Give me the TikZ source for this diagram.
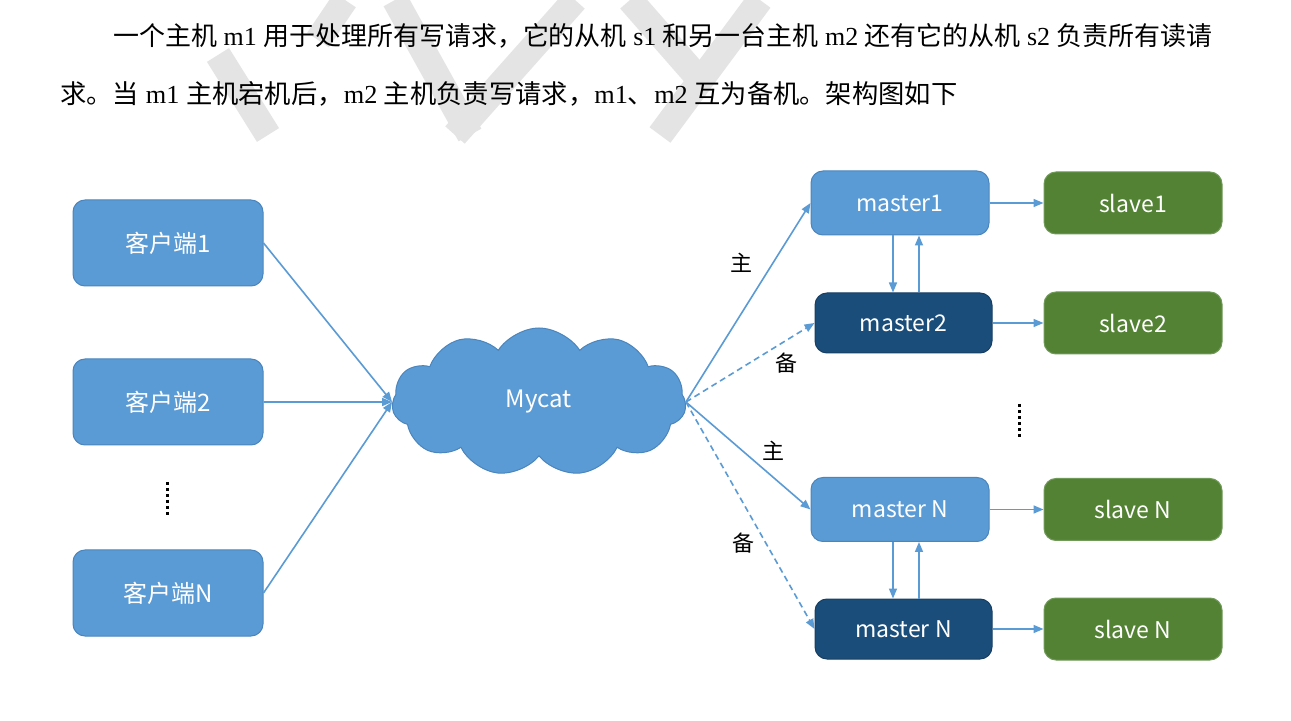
\documentclass[tikz,border=0pt]{standalone}
\usepackage{graphicx}
\usepackage{fontspec}
\setmainfont{Liberation Serif}
\newfontfamily\cjk{Noto Sans CJK SC}
\usetikzlibrary{shapes.symbols,arrows.meta}

\definecolor{boxblue}{HTML}{5B9BD5}
\definecolor{boxedge}{HTML}{4A85BD}
\definecolor{deepblue}{HTML}{1B4D7A}
\definecolor{deepedge}{HTML}{173F63}
\definecolor{slavegreen}{HTML}{548235}
\definecolor{slaveedge}{HTML}{6F9A58}
\definecolor{wmgray}{HTML}{E4E4E4}

\tikzset{
  box/.style={rectangle, rounded corners=6pt, line width=0.5pt, text=white,
    inner sep=0pt, font=\cjk\fontsize{11.5}{13}\selectfont},
  client/.style={box, fill=boxblue, draw=boxedge, minimum width=95pt,
    minimum height=43pt, font=\cjk\fontsize{12}{14}\selectfont},
  master/.style={box, fill=boxblue, draw=boxedge, minimum width=89pt, minimum height=32pt},
  backup/.style={box, fill=deepblue, draw=deepedge, minimum width=88.5pt, minimum height=30pt},
  slavebox/.style={box, fill=slavegreen, draw=slaveedge, minimum width=89pt, minimum height=31pt},
  link/.style={draw=boxblue, line width=0.8pt, -{Triangle[length=5pt,width=4pt]}},
  spare/.style={link, dash pattern=on 3pt off 2pt},
  tag/.style={font=\cjk\fontsize{11}{12}\selectfont, text=black, inner sep=0pt},
  para/.style={anchor=base west, inner sep=0pt, font=\fontsize{13}{15}\selectfont},
}

\begin{document}
\begin{tikzpicture}[x=0.5pt, y=-0.5pt]
  \useasboundingbox[fill=white] (0,0) rectangle (1291,721);

  \begin{scope}[draw=wmgray, line width=13pt]
    \draw (218,55) -- (268,135);
    \draw (345,0) -- (318,40);
    \draw (395,0) -- (470,135);
    \draw (575,0) -- (455,135);
    \draw (630,0) -- (700,80);
    \draw (760,0) -- (660,135);
  \end{scope}

  \node[para] (line1) at (113,46) {\resizebox{549.5pt}{\height}{{\cjk 一个主机} m1 {\cjk 用于处理所有写请求，它的从机} s1 {\cjk 和另一台主机} m2 {\cjk 还有它的从机} s2 {\cjk 负责所有读请}}};
  \node[para] (line2) at (60,104) {\resizebox{448.5pt}{\height}{{\cjk 求。当} m1 {\cjk 主机宕机后，}m2 {\cjk 主机负责写请求，}m1{\cjk 、}m2 {\cjk 互为备机。架构图如下}}};

  \node[client] (c1) at (168,243) {客户端1};
  \node[client] (c2) at (168,402) {客户端2};
  \node[client] (cn) at (168,593) {客户端N};

  \node[cloud, cloud puffs=11, cloud puff arc=115, aspect=2, fill=boxblue, draw=boxedge,
    line width=0.5pt, minimum width=147pt, minimum height=74pt, text=white,
    font=\cjk\fontsize{12}{14}\selectfont] (mycat) at (539,402) {Mycat};

  \node[master] (m1) at (900,203) {master1};
  \node[backup] (m2) at (903.5,323) {master2};
  \node[master] (mn) at (900,509.5) {master N};
  \node[backup] (bn) at (903.5,629) {master N};

  \node[slavebox] (s1) at (1133,203) {slave1};
  \node[slavebox] (s2) at (1133,323) {slave2};
  \node[slavebox] (sn) at (1133,509.5) {slave N};
  \node[slavebox] (tn) at (1133,629) {slave N};

  \draw[link] (c1.east) -- (mycat.west);
  \draw[link] (c2.east) -- (mycat.west);
  \draw[link] (cn.east) -- (mycat.west);

  \draw[link] (mycat.east) -- (m1.west) node[tag, pos=0.7, left=10pt] {主};
  \draw[spare] (mycat.east) -- (m2.west) node[tag, pos=0.78, below=6pt] {备};
  \draw[link] (mycat.east) -- (mn.west) node[tag, pos=0.7, above=8pt] {主};
  \draw[spare] (mycat.east) -- (bn.west) node[tag, pos=0.62, left=5pt] {备};

  \draw[link] ([xshift=-3.5pt]m1.south) -- ([xshift=-3.5pt]m1.south |- m2.north);
  \draw[link] ([xshift=9.5pt]m1.south |- m2.north) -- ([xshift=9.5pt]m1.south);
  \draw[link] ([xshift=-3.5pt]mn.south) -- ([xshift=-3.5pt]mn.south |- bn.north);
  \draw[link] ([xshift=9.5pt]mn.south |- bn.north) -- ([xshift=9.5pt]mn.south);

  \draw[link] (m1) -- (s1);
  \draw[link] (m2) -- (s2);
  \draw[link] (mn) -- (sn);
  \draw[link] (bn) -- (tn);

  \draw[line width=1.5pt, dash pattern=on 1.5pt off 1.5pt] (167,482) -- (167,515);
  \draw[line width=1.5pt, dash pattern=on 1.5pt off 1.5pt] (1019,404) -- (1019,437);
\end{tikzpicture}
\end{document}
